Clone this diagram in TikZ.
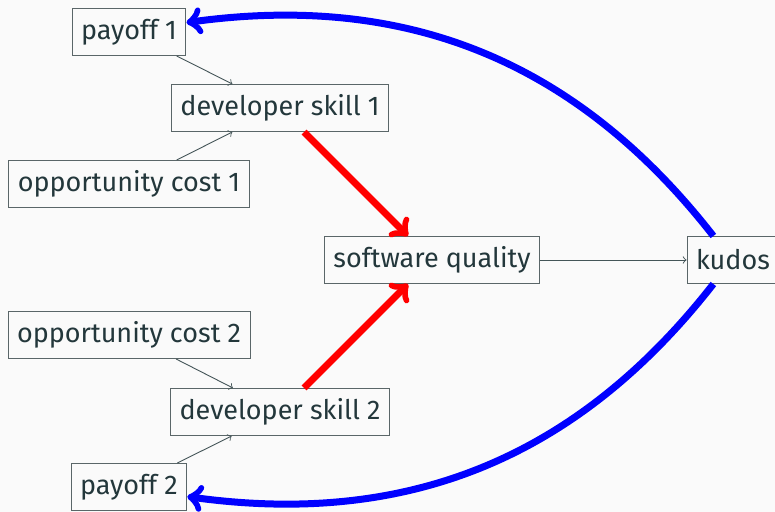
\documentclass[tikz,border=0pt]{standalone}
\usepackage{fontspec}
\setmainfont{Fira Sans}
\definecolor{bgc}{HTML}{FAFAFA}
\definecolor{txt}{HTML}{23373B}
\definecolor{bord}{HTML}{5A6668}
\begin{document}
\begin{tikzpicture}[x=0.5pt,y=-0.5pt,
  box/.style={draw=bord,line width=0.5pt,text=txt,font=\fontsize{13.5}{15}\selectfont,
    inner xsep=4.5pt,minimum height=23.5pt,fill=bgc},
  thin/.style={->,draw=txt!85,line width=0.45pt},
  fat/.style={->,line width=3.5pt}]
\fill[bgc] (0,0) rectangle (775,512);
\useasboundingbox (0,0) rectangle (775,512);
\node[box] (p1) at (129,32) {payoff 1};
\node[box] (d1) at (280,108) {developer skill 1};
\node[box] (o1) at (129,184) {opportunity cost 1};
\node[box] (sq) at (432,260) {software quality};
\node[box] (k) at (733,260) {kudos};
\node[box] (o2) at (129,335) {opportunity cost 2};
\node[box] (d2) at (280,412) {developer skill 2};
\node[box] (p2) at (129,487) {payoff 2};
\draw[thin] (p1) -- (d1);
\draw[thin] (o1) -- (d1);
\draw[thin] (o2) -- (d2);
\draw[thin] (p2) -- (d2);
\draw[thin] (sq) -- (k);
\draw[fat,red] (d1) -- (sq);
\draw[fat,red] (d2) -- (sq);
\draw[fat,blue] (k) to[bend right=30] (p1);
\draw[fat,blue] (k) to[bend left=30] (p2);
\end{tikzpicture}
\end{document}
